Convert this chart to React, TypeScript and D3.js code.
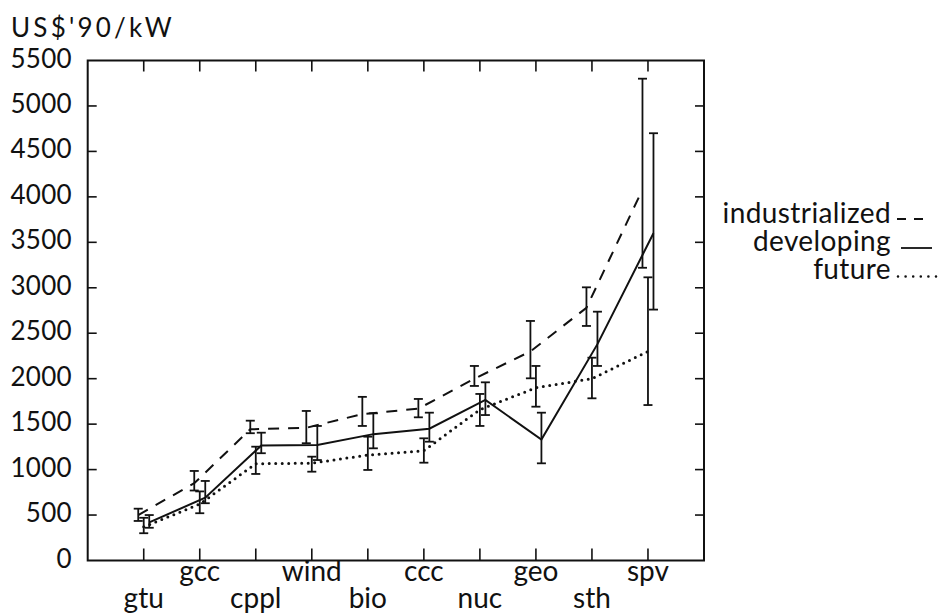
import React from 'react';
import * as d3 from 'd3';

const categories = ['gtu', 'gcc', 'cppl', 'wind', 'bio', 'ccc', 'nuc', 'geo', 'sth', 'spv'];

const industrialized = [500, 850, 1443, 1460, 1610, 1670, 2000, 2300, 2780, 4080];
const industrializedLow = [435, 770, 1400, 1290, 1480, 1575, 1920, 2004, 2580, 3220];
const industrializedHigh = [570, 985, 1538, 1645, 1800, 1777, 2140, 2635, 3005, 5300];

const developing = [420, 690, 1265, 1270, 1390, 1450, 1766, 1330, 2380, 3600];
const developingLow = [360, 630, 1180, 1105, 1234, 1307, 1600, 1069, 2140, 2760];
const developingHigh = [500, 875, 1406, 1480, 1619, 1626, 1960, 1626, 2737, 4700];

const future = [370, 620, 1065, 1070, 1160, 1208, 1660, 1900, 2000, 2300];
const futureLow = [300, 520, 952, 977, 996, 1076, 1480, 1692, 1784, 1710];
const futureHigh = [470, 760, 1252, 1142, 1362, 1344, 1832, 2140, 2231, 3115];

const yTicks = [0, 500, 1000, 1500, 2000, 2500, 3000, 3500, 4000, 4500, 5000, 5500];
const yTitle = "US$'90/kW";
const legendLabels = ['industrialized', 'developing', 'future'];

const FONT = 'Lato, sans-serif';
const INK = '#111';

export default function App() {
  const x = d3.scaleLinear().domain([0, 11]).range([87.7, 704]);
  const y = d3.scaleLinear().domain([0, 5500]).range([560.5, 60.5]);

  const series = [
    { name: legendLabels[0], vals: industrialized, lo: industrializedLow, hi: industrializedHigh, off: -5.5, kind: 'dash' },
    { name: legendLabels[1], vals: developing, lo: developingLow, hi: developingHigh, off: 5.5, kind: 'solid' },
    { name: legendLabels[2], vals: future, lo: futureLow, hi: futureHigh, off: 0, kind: 'dot' },
  ];

  const styleFor = (kind: string) =>
    kind === 'dash'
      ? { strokeDasharray: '11,9', strokeLinecap: 'butt' as const, strokeWidth: 2 }
      : kind === 'dot'
      ? { strokeDasharray: '0,6.5', strokeLinecap: 'round' as const, strokeWidth: 3 }
      : { strokeLinecap: 'butt' as const, strokeWidth: 2 };

  const line = (s: any) =>
    d3.line<number>()
      .x((_, i) => x(i + 1) + s.off)
      .y((v) => y(v))(s.vals) as string;

  const x0 = x.range()[0];
  const x1 = x.range()[1];
  const yb = y(0);
  const yt = y(5500);

  const legendY = [223, 251, 278.5];
  const legendSample = [
    { x1: 897, x2: 923, dy: -4, dash: '9,8', w: 1.8, cap: 'butt' },
    { x1: 901, x2: 932, dy: -3, dash: undefined, w: 1.8, cap: 'butt' },
    { x1: 898, x2: 937, dy: -2, dash: '0,7.6', w: 2.6, cap: 'round' },
  ];

  return (
    <svg width={946} height={616} style={{ position: 'absolute', left: 0, top: 0, background: '#fff' }}>
      <rect x={0} y={0} width={946} height={616} fill="#fff" />
      {/* frame */}
      <rect x={x0} y={yt} width={x1 - x0} height={yb - yt} fill="none" stroke={INK} strokeWidth={2} />
      {/* y ticks left/right */}
      {yTicks.filter((t) => t > 0 && t < 5500).map((t) => (
        <g key={'yt' + t}>
          <line x1={x0} x2={x0 + 9} y1={y(t)} y2={y(t)} stroke={INK} strokeWidth={1.6} />
          <line x1={x1} x2={x1 - 9} y1={y(t)} y2={y(t)} stroke={INK} strokeWidth={1.6} />
        </g>
      ))}
      {/* y tick labels */}
      {yTicks.map((t) => (
        <text key={'yl' + t} x={72} y={y(t) + 7} textAnchor="end" fontFamily={FONT} fontSize={26} letterSpacing={0.3} fill={INK}>
          {t}
        </text>
      ))}
      {/* x ticks */}
      {categories.map((c, i) => (
        <g key={'xt' + c}>
          <line x1={x(i + 1)} x2={x(i + 1)} y1={yb} y2={yb - 12} stroke={INK} strokeWidth={1.6} />
          <line x1={x(i + 1)} x2={x(i + 1)} y1={yt} y2={yt + 11} stroke={INK} strokeWidth={1.6} />
          <text x={x(i + 1)} y={i % 2 === 1 ? 581 : 608} textAnchor="middle" fontFamily={FONT} fontSize={28} fill={INK}>
            {c}
          </text>
        </g>
      ))}
      {/* y title */}
      <text x={11} y={37} fontFamily={FONT} fontSize={26} letterSpacing={3.2} fill={INK}>{yTitle}</text>

      {/* series lines */}
      {series.map((s) => (
        <path key={'l' + s.name} d={line(s)} fill="none" stroke={INK} {...styleFor(s.kind)} />
      ))}
      {/* error bars */}
      {series.map((s) =>
        s.vals.map((_, i) => {
          const cx = x(i + 1) + s.off;
          return (
            <g key={'e' + s.name + i} stroke={INK} strokeWidth={1.8}>
              <line x1={cx} x2={cx} y1={y(s.lo[i])} y2={y(s.hi[i])} />
              <line x1={cx - 4.5} x2={cx + 4.5} y1={y(s.lo[i])} y2={y(s.lo[i])} />
              <line x1={cx - 4.5} x2={cx + 4.5} y1={y(s.hi[i])} y2={y(s.hi[i])} />
            </g>
          );
        })
      )}

      {/* legend */}
      {series.map((s, k) => (
        <g key={'lg' + s.name}>
          <text x={891} y={legendY[k]} textAnchor="end" fontFamily={FONT} fontSize={28} letterSpacing={0.4} fill={INK}>{s.name}</text>
          <line x1={legendSample[k].x1} x2={legendSample[k].x2} y1={legendY[k] + legendSample[k].dy} y2={legendY[k] + legendSample[k].dy}
            stroke={INK} strokeWidth={legendSample[k].w}
            strokeDasharray={legendSample[k].dash}
            strokeLinecap={legendSample[k].cap as any} />
        </g>
      ))}
    </svg>
  );
}
